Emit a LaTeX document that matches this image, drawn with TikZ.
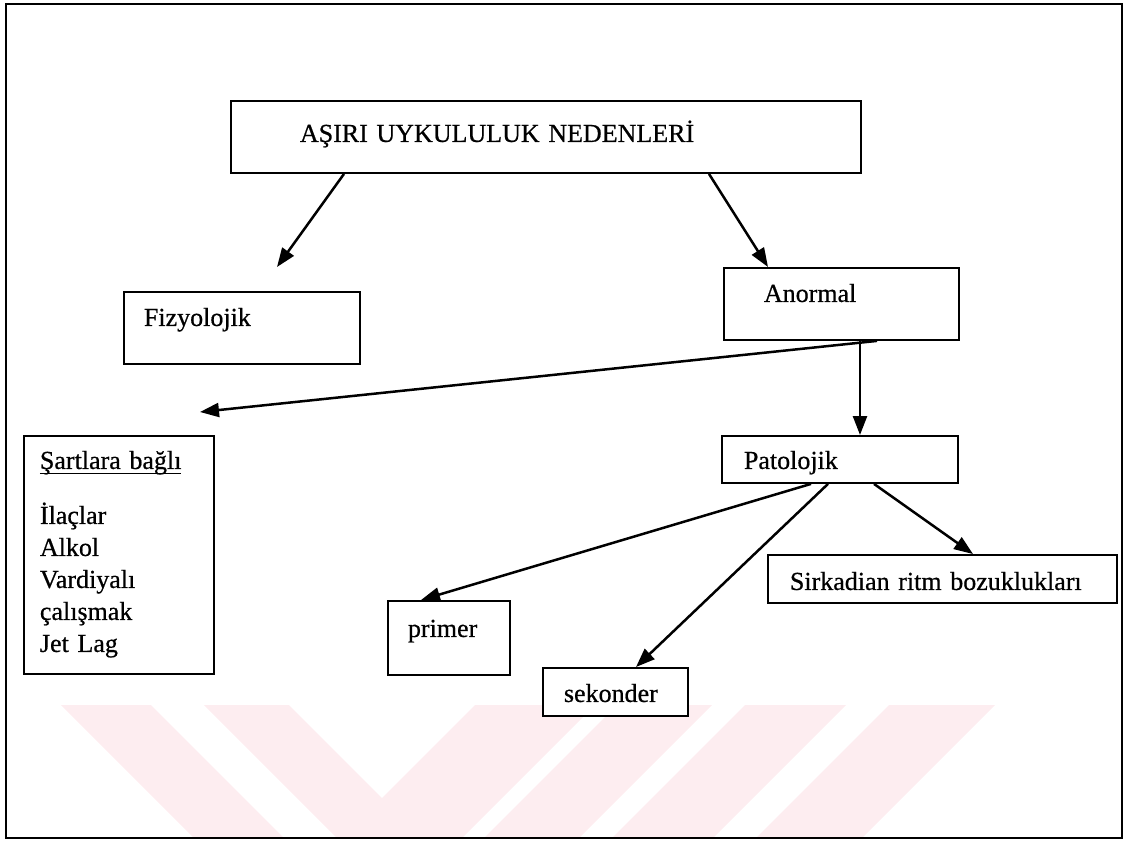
\documentclass[tikz,border=0pt]{standalone}
\usepackage{fontspec}
\setmainfont{Liberation Serif}[FakeBold=0.6]
\usetikzlibrary{arrows.meta}
\definecolor{filigran}{RGB}{253,237,240}
\newcommand{\altciz}[1]{\setbox0\hbox{#1}\rlap{\rule[-5pt]{\wd0}{1.3pt}}\box0}
\tikzset{
	kutu/.style={draw, fill=white, line width=1.9pt, inner ysep=0pt, align=left, anchor=north west},
	ok/.style={line width=2.5pt, -{Triangle[length=19pt,width=14pt]}}
}

\begin{document}
\begin{tikzpicture}[x=1pt, y=-1pt, font=\fontsize{26}{32}\selectfont]
			%%%%% START %%%%%
			\useasboundingbox (0,0) rectangle (1125,841);
			
			% filigran
			\fill[filigran] (61,705) -- (151,705) -- (284,838) -- (194,838) -- cycle;
			\fill[filigran] (204,705) -- (289,705) -- (382,798) -- (475,705) -- (595,705) -- (462,838) -- (337,838) -- cycle;
			\fill[filigran] (617,705) -- (712,705) -- (579,838) -- (484,838) -- cycle;
			\fill[filigran] (745,705) -- (846,705) -- (713,838) -- (612,838) -- cycle;
			\fill[filigran] (889,705) -- (995,705) -- (862,838) -- (756,838) -- cycle;
			
			\draw[line width=2pt] (6,4) rectangle (1122,838);
			
			\node[kutu, inner xsep=69pt, text width=492pt, text height=41pt, text depth=31pt] (baslik) at (230,100) {AŞIRI UYKULULUK NEDENLERİ};
			
			\node[kutu, inner xsep=20pt, text width=196pt, text height=34pt, text depth=38pt] (fizyolojik) at (123,291) {Fizyolojik};
			\node[kutu, inner xsep=40pt, text width=155pt, text height=34pt, text depth=38pt] (anormal) at (723,267) {Anormal};
			
			\node[kutu, inner xsep=16pt, text width=158pt, text height=33pt, text depth=205pt] (sartlar) at (23,435) {\altciz{Şartlara bağlı}\\[23pt]İlaçlar\\Alkol\\Vardiyalı\\çalışmak\\Jet Lag};
			\node[kutu, inner xsep=22pt, text width=192pt, text height=33pt, text depth=14pt] (patolojik) at (721,435) {Patolojik};
			
			\node[kutu, inner xsep=22pt, text width=305pt, text height=35pt, text depth=13pt] (sirkadian) at (767,554) {Sirkadian ritm bozuklukları};
			\node[kutu, inner xsep=20pt, text width=82pt, text height=36pt, text depth=38pt] (primer) at (387,600) {primer};
			\node[kutu, inner xsep=21pt, text width=103pt, text height=34pt, text depth=14pt] (sekonder) at (542,667) {sekonder};
			
			\draw[ok] ([xshift=114pt]baslik.south west) -- ([xshift=154pt,yshift=24pt]fizyolojik.north west);
			\draw[ok] ([xshift=479pt]baslik.south west) -- ([xshift=45pt]anormal.north west);
			
			\coordinate (dik) at ([xshift=137pt]anormal.south west);
			\draw[ok] ([xshift=154pt]anormal.south west) -- ([xshift=177pt,yshift=23pt]sartlar.north west);
			\draw[ok] (dik) -- (dik |- patolojik.north);
			
			\draw[ok] ([xshift=90pt]patolojik.south west) -- ([xshift=34pt]primer.north west);
			\draw[ok] ([xshift=107pt]patolojik.south west) -- ([xshift=94pt]sekonder.north west);
			\draw[ok] ([xshift=153pt]patolojik.south west) -- ([xshift=206pt]sirkadian.north west);
			
			%%%%% END %%%%%
\end{tikzpicture}
\end{document}
